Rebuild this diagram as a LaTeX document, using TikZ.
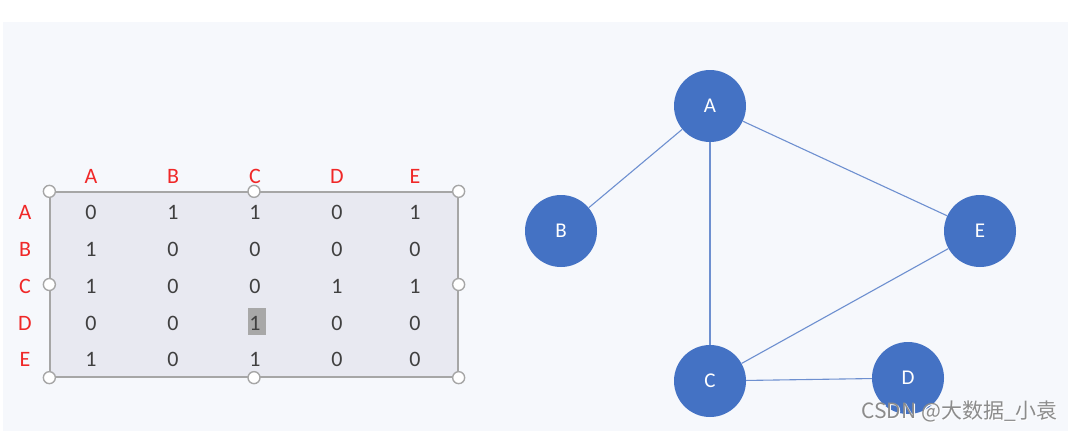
\documentclass[tikz,border=0pt]{standalone}
\usepackage{fontspec}
\setmainfont{Carlito}
\newfontfamily\cjkfont{Noto Sans CJK SC}
\definecolor{panel}{HTML}{F6F8FC}
\definecolor{tablefill}{HTML}{E8E9F1}
\definecolor{tableline}{HTML}{A6A6A6}
\definecolor{hdr}{HTML}{F02828}
\definecolor{num}{HTML}{404040}
\definecolor{nodeblue}{HTML}{4472C4}
\definecolor{edgeblue}{HTML}{6E90D0}
\definecolor{hl}{HTML}{A8A8A8}
\begin{document}
\begin{tikzpicture}[x=1pt,y=-1pt,
  hdrlbl/.style={text=hdr,font=\fontsize{22}{22}\selectfont,inner sep=0pt},
  cell/.style={text=num,font=\fontsize{22}{22}\selectfont,inner sep=0pt},
  handle/.style={circle,draw=tableline,fill=white,line width=1.4pt,minimum size=12pt,inner sep=0pt},
  vtx/.style={circle,fill=nodeblue,minimum size=72pt,inner sep=0pt,text=white,font=\fontsize{21}{21}\selectfont},
  edge/.style={draw=edgeblue,line width=1.1pt}]
\useasboundingbox (0,0) rectangle (1073,431);
\fill[white] (0,0) rectangle (1073,431);
\fill[panel] (3,22) rectangle (1068,431);
% table
\node[draw=tableline,fill=tablefill,line width=1.3pt,minimum width=408pt,minimum height=185pt,inner sep=0pt] (tbl) at (254,284.5) {};
\fill[hl] (248,308) rectangle (266,335);
\foreach \n/\x in {A/91,B/173,C/255,D/337,E/415}{
  \node[hdrlbl] (h\n) at (\x,176) {\n};
}
\foreach \n/\y in {A/212,B/249,C/286,D/323,E/359}{
  \node[hdrlbl] (r\n) at (25,\y) {\n};
}
\foreach \r/\y/\vals in {A/212/{0,1,1,0,1},B/249/{1,0,0,0,0},C/286/{1,0,0,1,1},D/323/{0,0,1,0,0},E/359/{1,0,1,0,0}}{
  \foreach \v [count=\c] in \vals {
    \pgfmathsetmacro\xx{{91,173,255,337,415}[\c-1]}
    \node[cell] (c\r\c) at (\xx,\y) {\v};
  }
}
\foreach \p in {north west,north,north east,west,east,south west,south,south east}{
  \node[handle] at (tbl.\p) {};
}
% graph
\node[vtx] (A) at (710,106) {A};
\node[vtx] (B) at (561,231) {B};
\node[vtx] (E) at (980,231) {E};
\node[vtx] (C) at (710,381) {C};
\node[vtx] (D) at (908,378) {D};
\path[edge] (A) -- (B);
\path[edge] (A) -- (C);
\path[edge] (A) -- (E);
\path[edge] (C) -- (E);
\path[edge] (C) -- (D);
% watermark
\node[text=white,font=\fontsize{21}{21}\selectfont\cjkfont,anchor=east,inner sep=0pt] (wm2) at (1059,412) {CSDN @大数据\_小袁};
\node[text=black!45,font=\fontsize{21}{21}\selectfont\cjkfont,anchor=east,inner sep=0pt] (wm) at (1058,411) {CSDN @大数据\_小袁};
\end{tikzpicture}
\end{document}
